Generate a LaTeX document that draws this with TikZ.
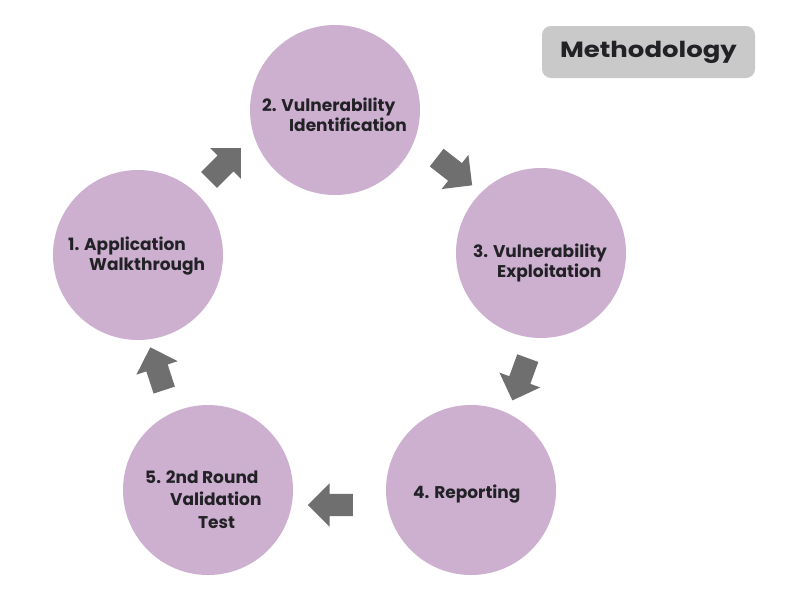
\documentclass[tikz,border=0pt]{standalone}
\usepackage{fontspec}
\setmainfont{Poppins}
\usetikzlibrary{shapes.arrows}
\definecolor{circfill}{RGB}{205,176,208}
\definecolor{arrowgray}{RGB}{111,111,111}
\definecolor{titlegray}{RGB}{201,201,201}
\definecolor{textdark}{RGB}{34,34,38}
\tikzset{
  stepcirc/.style={circle, fill=circfill, draw=none, minimum size=170pt, inner sep=0pt},
  steptext/.style={anchor=base west, align=left, inner sep=0pt, text=textdark,
    font=\bfseries\fontsize{17}{20}\selectfont},
  blockarrow/.style={single arrow, fill=arrowgray, draw=none, minimum height=45pt,
    minimum width=43pt, inner sep=11pt, single arrow head extend=10.5pt},
  titlebox/.style={rounded corners=9pt, fill=titlegray, draw=none, minimum width=213pt,
    minimum height=52pt, text=textdark, font=\bfseries\fontsize{22}{26}\selectfont}
}
\begin{document}
\begin{tikzpicture}[x=1pt,y=-1pt]
\useasboundingbox[fill=white] (0,0) rectangle (800,600);
% circles
\node[stepcirc] (c1) at (138,255) {};
\node[stepcirc] (c2) at (335,110) {};
\node[stepcirc] (c3) at (541,253) {};
\node[stepcirc] (c4) at (471,490) {};
\node[stepcirc] (c5) at (208,490) {};
% texts (base anchor = baseline of the last line)
\node[steptext] (t1) at (68,270) {1. Application\\\hspace*{21pt}Walkthrough};
\node[steptext] (t2) at (262,131) {2. Vulnerability\\\hspace*{27pt}Identification};
\node[steptext] (t3) at (473,277) {3. Vulnerability\\\hspace*{24pt}Exploitation};
\node[steptext] (t4) at (413,498) {4. Reporting};
\node[steptext, font=\bfseries\fontsize{17}{22.5}\selectfont] (t5) at (145,528)
  {5. 2nd Round\\\hspace*{25pt}Validation\\\hspace*{53pt}Test};
% arrows
\node[blockarrow, rotate=45] (a12) at (221,168) {};
\node[blockarrow, rotate=-38] (a23) at (450,168) {};
\node[blockarrow, rotate=-110] (a34) at (522,374) {};
\node[blockarrow, rotate=180] (a45) at (336,505) {};
\node[blockarrow, rotate=108] (a51) at (159,374) {};
% title
\node[titlebox] (title) at (648.5,52) {\scalebox{1.18}[1]{Methodology}};
\end{tikzpicture}
\end{document}
